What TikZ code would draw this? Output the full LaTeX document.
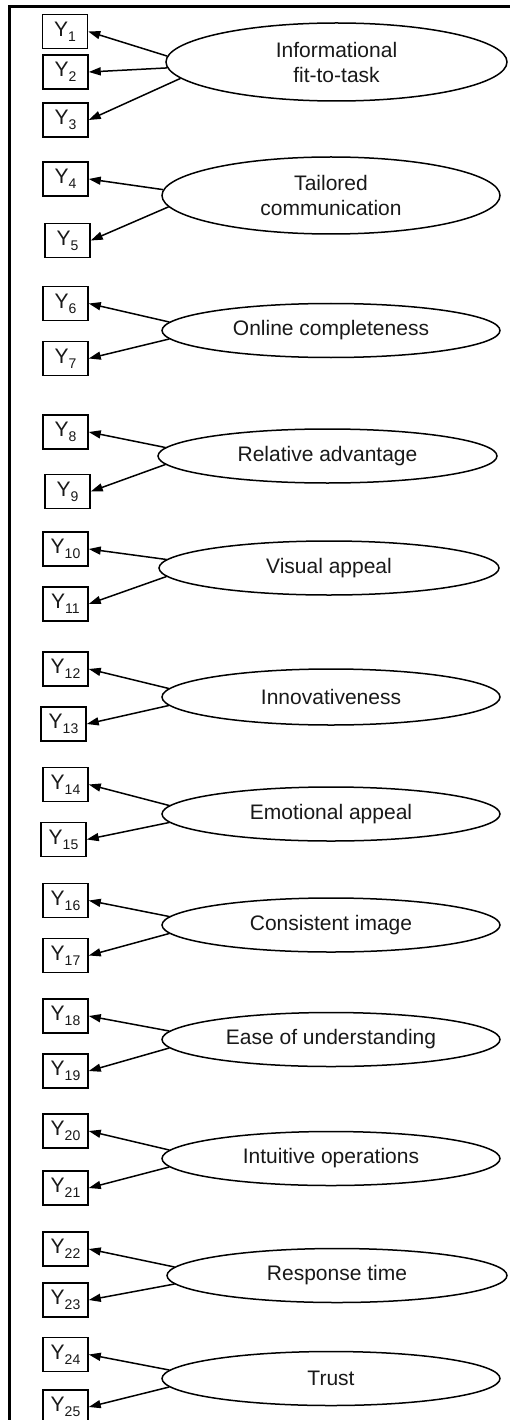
\documentclass[tikz,border=0pt]{standalone}
\usepackage{fontspec}
\setmainfont{Liberation Sans}
\usetikzlibrary{arrows.meta,shapes.geometric}
% indicator label: Y with a lowered index
\newcommand\indic[1]{Y\raisebox{-5pt}{\fontsize{14}{14}\selectfont #1}}
\begin{document}
\begin{tikzpicture}[x=1pt,y=-1pt,
  frameline/.style={line width=3pt},
  indicator/.style={draw, line width=1.5pt, minimum width=45pt, minimum height=34pt,
    inner sep=0pt, text=black!90, font=\fontsize{21}{25}\selectfont},
  construct/.style={draw, ellipse, line width=1.5pt, inner sep=0pt, minimum width=338pt,
    align=center, text=black!90, font=\fontsize{21}{25}\selectfont},
  flatconstruct/.style={construct, minimum height=54pt},
  tallconstruct/.style={construct, minimum height=77pt},
  loading/.style={line width=1.5pt, -{Triangle[length=12pt,width=8pt]}}
]
\useasboundingbox (0,0) rectangle (510,1420);
\fill[white] (0,0) rectangle (510,1420);

% frame
\draw[frameline] (512,6.5) -- (9.5,6.5) -- (9.5,1422);

% indicators
\node[indicator] (y1)  at (65,31.5)    {\indic{1}};
\node[indicator] (y2)  at (65.5,72)    {\indic{2}};
\node[indicator] (y3)  at (65.5,120)   {\indic{3}};
\node[indicator] (y4)  at (65.5,179)   {\indic{4}};
\node[indicator] (y5)  at (67.5,240.5) {\indic{5}};
\node[indicator] (y6)  at (65.5,303.5) {\indic{6}};
\node[indicator] (y7)  at (65.5,358.5) {\indic{7}};
\node[indicator] (y8)  at (65.5,432)   {\indic{8}};
\node[indicator] (y9)  at (67.5,491.5) {\indic{9}};
\node[indicator] (y10) at (65.5,549)   {\indic{10}};
\node[indicator] (y11) at (65.5,604)   {\indic{11}};
\node[indicator] (y12) at (65.5,669)   {\indic{12}};
\node[indicator] (y13) at (63.5,724)   {\indic{13}};
\node[indicator] (y14) at (65.5,784.5) {\indic{14}};
\node[indicator] (y15) at (63.5,839.5) {\indic{15}};
\node[indicator] (y16) at (65.5,900.5) {\indic{16}};
\node[indicator] (y17) at (65.5,955.5) {\indic{17}};
\node[indicator] (y18) at (65.5,1016)  {\indic{18}};
\node[indicator] (y19) at (65.5,1071)  {\indic{19}};
\node[indicator] (y20) at (65.5,1131)  {\indic{20}};
\node[indicator] (y21) at (65.5,1188)  {\indic{21}};
\node[indicator] (y22) at (65.5,1249)  {\indic{22}};
\node[indicator] (y23) at (65.5,1300)  {\indic{23}};
\node[indicator] (y24) at (65.5,1354.5){\indic{24}};
\node[indicator] (y25) at (65.5,1407)  {\indic{25}};

% constructs
\node[tallconstruct, minimum width=341pt, minimum height=78pt] (e1) at (336.5,62) {Informational\\fit-to-task};
\node[tallconstruct] (e2) at (331,195.5) {Tailored\\communication};
\node[flatconstruct] (e3) at (331,330.5) {Online completeness};
\node[flatconstruct, minimum width=339pt] (e4) at (327.5,456) {Relative advantage};
\node[flatconstruct, minimum width=340pt] (e5) at (329,568) {Visual appeal};
\node[flatconstruct, minimum height=56pt] (e6) at (331,697) {Innovativeness};
\node[flatconstruct] (e7) at (331,814) {Emotional appeal};
\node[flatconstruct] (e8) at (331,925) {Consistent image};
\node[flatconstruct] (e9) at (331,1039.5) {Ease of understanding};
\node[flatconstruct] (e10) at (331,1158.5) {Intuitive operations};
\node[flatconstruct, minimum width=340pt] (e11) at (337,1275.5) {Response time};
\node[flatconstruct] (e12) at (331,1378.5) {Trust};

% loadings
\draw[loading] (e1.178) -- (y1.east);
\draw[loading] (e1.182) -- (y2.east);
\draw[loading] (e1.186) -- (y3.east);
\draw[loading] (e2.178.5) -- (y4.east);
\draw[loading] (e2.184.5) -- (y5.east);
\draw[loading] (e3.177) -- (y6.east);
\draw[loading] (e3.183) -- (y7.east);
\draw[loading] (e4.177) -- (y8.east);
\draw[loading] (e4.183) -- (y9.east);
\draw[loading] (e5.177) -- (y10.east);
\draw[loading] (e5.183) -- (y11.east);
\draw[loading] (e6.177) -- (y12.east);
\draw[loading] (e6.183) -- (y13.east);
\draw[loading] (e7.177) -- (y14.east);
\draw[loading] (e7.183) -- (y15.east);
\draw[loading] (e8.177) -- (y16.east);
\draw[loading] (e8.183) -- (y17.east);
\draw[loading] (e9.177) -- (y18.east);
\draw[loading] (e9.183) -- (y19.east);
\draw[loading] (e10.177) -- (y20.east);
\draw[loading] (e10.183) -- (y21.east);
\draw[loading] (e11.177) -- (y22.east);
\draw[loading] (e11.183) -- (y23.east);
\draw[loading] (e12.177) -- (y24.east);
\draw[loading] (e12.183) -- (y25.east);
\end{tikzpicture}
\end{document}
